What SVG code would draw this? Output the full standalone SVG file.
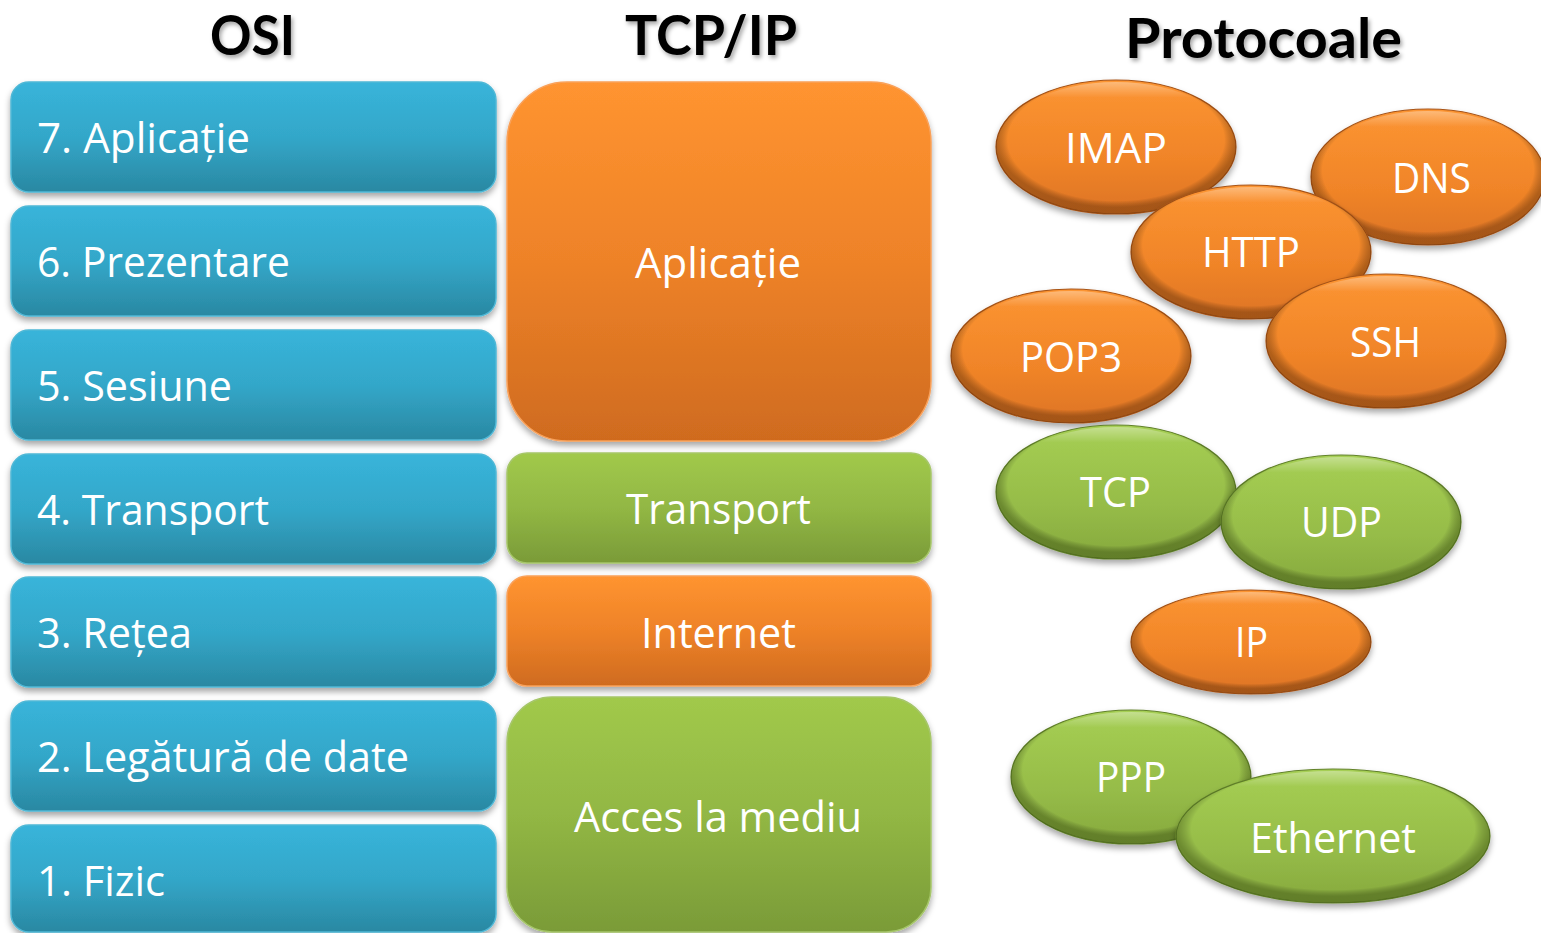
<svg xmlns="http://www.w3.org/2000/svg" width="1541" height="933" viewBox="0 0 1541 933">
<defs>
<linearGradient id="gBlue" x1="0" y1="0" x2="0" y2="1">
<stop offset="0" stop-color="#38B4DA"/><stop offset="0.5" stop-color="#33A7C9"/><stop offset="1" stop-color="#2A88A2"/>
</linearGradient>
<linearGradient id="gOrange" x1="0" y1="0" x2="0" y2="1">
<stop offset="0" stop-color="#FF9430"/><stop offset="0.5" stop-color="#EE8228"/><stop offset="1" stop-color="#CF6B1F"/>
</linearGradient>
<linearGradient id="gGreen" x1="0" y1="0" x2="0" y2="1">
<stop offset="0" stop-color="#A1C94B"/><stop offset="0.5" stop-color="#92B744"/><stop offset="1" stop-color="#7A9B38"/>
</linearGradient>
<linearGradient id="eOrange" x1="0" y1="0" x2="0" y2="1">
<stop offset="0" stop-color="#FC9532"/><stop offset="0.6" stop-color="#F08428"/><stop offset="1" stop-color="#DD7424"/>
</linearGradient>
<linearGradient id="eGreen" x1="0" y1="0" x2="0" y2="1">
<stop offset="0" stop-color="#A6CF54"/><stop offset="0.6" stop-color="#96BC48"/><stop offset="1" stop-color="#86A93E"/>
</linearGradient>
<radialGradient id="rim" cx="0.5" cy="0.45" r="0.55">
<stop offset="0.82" stop-color="#000" stop-opacity="0"/><stop offset="0.91" stop-color="#3a1a00" stop-opacity="0.35"/>
</radialGradient>
<radialGradient id="rimG" cx="0.5" cy="0.45" r="0.55">
<stop offset="0.82" stop-color="#000" stop-opacity="0"/><stop offset="0.91" stop-color="#1e2e00" stop-opacity="0.35"/>
</radialGradient>
<linearGradient id="hl" x1="0" y1="0" x2="0" y2="1">
<stop offset="0" stop-color="#fff" stop-opacity="0.35"/><stop offset="0.12" stop-color="#fff" stop-opacity="0"/>
</linearGradient>
<filter id="sh" x="-10%" y="-10%" width="120%" height="130%">
<feDropShadow dx="0" dy="4" stdDeviation="3" flood-color="#000" flood-opacity="0.35"/>
</filter>
<filter id="tsh" x="-10%" y="-20%" width="130%" height="150%">
<feDropShadow dx="2" dy="3" stdDeviation="2" flood-color="#000" flood-opacity="0.35"/>
</filter>
</defs>
<style>
.hdr{font-family:Lato,"Open Sans","Liberation Sans",sans-serif;font-weight:bold;font-size:55px;fill:#000;text-anchor:middle;filter:url(#tsh)}
.t{font-family:"Open Sans","Liberation Sans",sans-serif;font-size:42px;fill:#fff}
.c{text-anchor:middle}
.blue{fill:url(#gBlue);stroke:#4FB8D6;stroke-width:1.5;filter:url(#sh)}
.orange{fill:url(#gOrange);stroke:#F9A15A;stroke-width:1.5;filter:url(#sh)}
.green{fill:url(#gGreen);stroke:#A6C66A;stroke-width:1.5;filter:url(#sh)}
.eo{fill:url(#eOrange);stroke:#A85418;stroke-width:1.2;filter:url(#sh)}
.eg{fill:url(#eGreen);stroke:#62822A;stroke-width:1.2;filter:url(#sh)}
.ro{fill:url(#rim)}
.rg{fill:url(#rimG)}
.h{fill:url(#hl)}
</style>
<rect width="1541" height="933" fill="#fff"/>

<g id="headers">
<text class="hdr" x="252.5" y="55" textLength="85" lengthAdjust="spacingAndGlyphs">OSI</text>
<text class="hdr" x="711" y="55" textLength="172" lengthAdjust="spacingAndGlyphs">TCP/IP</text>
<text class="hdr" x="1263.5" y="58" textLength="277" lengthAdjust="spacingAndGlyphs">Protocoale</text>
</g>

<g id="osi">
<g id="osi7"><rect class="blue" x="11" y="82" width="485" height="110" rx="18"/><text class="t" x="37" y="153" textLength="213" lengthAdjust="spacingAndGlyphs">7. Aplicație</text></g>
<g id="osi6"><rect class="blue" x="11" y="206" width="485" height="110" rx="18"/><text class="t" x="37" y="277" textLength="253" lengthAdjust="spacingAndGlyphs">6. Prezentare</text></g>
<g id="osi5"><rect class="blue" x="11" y="330" width="485" height="110" rx="18"/><text class="t" x="37" y="401" textLength="195" lengthAdjust="spacingAndGlyphs">5. Sesiune</text></g>
<g id="osi4"><rect class="blue" x="11" y="454" width="485" height="110" rx="18"/><text class="t" x="37" y="525" textLength="232" lengthAdjust="spacingAndGlyphs">4. Transport</text></g>
<g id="osi3"><rect class="blue" x="11" y="577" width="485" height="110" rx="18"/><text class="t" x="37" y="648" textLength="155" lengthAdjust="spacingAndGlyphs">3. Rețea</text></g>
<g id="osi2"><rect class="blue" x="11" y="701" width="485" height="110" rx="18"/><text class="t" x="37" y="772" textLength="372" lengthAdjust="spacingAndGlyphs">2. Legătură de date</text></g>
<g id="osi1"><rect class="blue" x="11" y="825" width="485" height="107" rx="18"/><text class="t" x="37" y="896" textLength="128" lengthAdjust="spacingAndGlyphs">1. Fizic</text></g>
</g>

<g id="tcpip">
<g id="tcp-app"><rect class="orange" x="507" y="82" width="424" height="359" rx="60"/><text class="t c" x="718" y="278" textLength="166" lengthAdjust="spacingAndGlyphs">Aplicație</text></g>
<g id="tcp-transport"><rect class="green" x="507" y="453" width="424" height="110" rx="20"/><text class="t c" x="718.5" y="524" textLength="185" lengthAdjust="spacingAndGlyphs">Transport</text></g>
<g id="tcp-internet"><rect class="orange" x="507" y="576" width="424" height="110" rx="20"/><text class="t c" x="718.5" y="648" textLength="155" lengthAdjust="spacingAndGlyphs">Internet</text></g>
<g id="tcp-access"><rect class="green" x="507" y="697" width="424" height="235" rx="45"/><text class="t c" x="718" y="832" textLength="288" lengthAdjust="spacingAndGlyphs">Acces la mediu</text></g>
</g>

<g id="protocols">
<g id="p-imap"><ellipse class="eo" cx="1116" cy="147" rx="120" ry="67"/><ellipse class="ro" cx="1116" cy="147" rx="120" ry="67"/><ellipse class="h" cx="1116" cy="147" rx="118" ry="65"/><text class="t c" x="1116" y="163" textLength="102" lengthAdjust="spacingAndGlyphs">IMAP</text></g>
<g id="p-dns"><ellipse class="eo" cx="1428" cy="177" rx="117" ry="68"/><ellipse class="ro" cx="1428" cy="177" rx="117" ry="68"/><ellipse class="h" cx="1428" cy="177" rx="115" ry="66"/><text class="t c" x="1431.5" y="193" textLength="79" lengthAdjust="spacingAndGlyphs">DNS</text></g>
<g id="p-http"><ellipse class="eo" cx="1251" cy="252" rx="120" ry="67"/><ellipse class="ro" cx="1251" cy="252" rx="120" ry="67"/><ellipse class="h" cx="1251" cy="252" rx="118" ry="65"/><text class="t c" x="1251" y="267" textLength="98" lengthAdjust="spacingAndGlyphs">HTTP</text></g>
<g id="p-pop3"><ellipse class="eo" cx="1071" cy="356" rx="120" ry="67"/><ellipse class="ro" cx="1071" cy="356" rx="120" ry="67"/><ellipse class="h" cx="1071" cy="356" rx="118" ry="65"/><text class="t c" x="1071" y="372" textLength="102" lengthAdjust="spacingAndGlyphs">POP3</text></g>
<g id="p-ssh"><ellipse class="eo" cx="1386" cy="341" rx="120" ry="67"/><ellipse class="ro" cx="1386" cy="341" rx="120" ry="67"/><ellipse class="h" cx="1386" cy="341" rx="118" ry="65"/><text class="t c" x="1385.5" y="357" textLength="71" lengthAdjust="spacingAndGlyphs">SSH</text></g>
<g id="p-tcp"><ellipse class="eg" cx="1116" cy="492" rx="120" ry="67"/><ellipse class="rg" cx="1116" cy="492" rx="120" ry="67"/><ellipse class="h" cx="1116" cy="492" rx="118" ry="65"/><text class="t c" x="1115.5" y="507" textLength="71" lengthAdjust="spacingAndGlyphs">TCP</text></g>
<g id="p-udp"><ellipse class="eg" cx="1341" cy="522" rx="120" ry="67"/><ellipse class="rg" cx="1341" cy="522" rx="120" ry="67"/><ellipse class="h" cx="1341" cy="522" rx="118" ry="65"/><text class="t c" x="1341.5" y="537" textLength="81" lengthAdjust="spacingAndGlyphs">UDP</text></g>
<g id="p-ip"><ellipse class="eo" cx="1251" cy="642" rx="120" ry="52"/><ellipse class="ro" cx="1251" cy="642" rx="120" ry="52"/><ellipse class="h" cx="1251" cy="642" rx="118" ry="50"/><text class="t c" x="1251.5" y="657" textLength="33" lengthAdjust="spacingAndGlyphs">IP</text></g>
<g id="p-ppp"><ellipse class="eg" cx="1131" cy="777" rx="120" ry="67"/><ellipse class="rg" cx="1131" cy="777" rx="120" ry="67"/><ellipse class="h" cx="1131" cy="777" rx="118" ry="65"/><text class="t c" x="1131" y="792" textLength="70" lengthAdjust="spacingAndGlyphs">PPP</text></g>
<g id="p-ethernet"><ellipse class="eg" cx="1333" cy="836" rx="157" ry="67"/><ellipse class="rg" cx="1333" cy="836" rx="157" ry="67"/><ellipse class="h" cx="1333" cy="836" rx="155" ry="65"/><text class="t c" x="1333" y="853" textLength="166" lengthAdjust="spacingAndGlyphs">Ethernet</text></g>
</g>
</svg>
